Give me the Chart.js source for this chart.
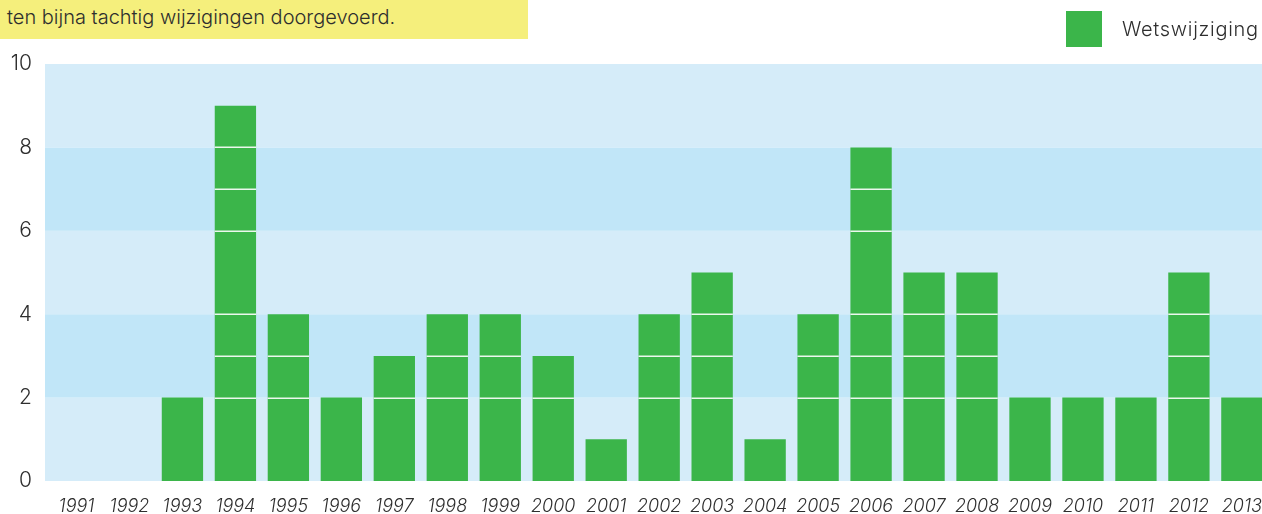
<!DOCTYPE html>
<html>
<head>
<meta charset="utf-8">
<script src="https://cdn.jsdelivr.net/npm/chart.js@4/dist/chart.umd.min.js"></script>
<style>
  html, body { margin: 0; padding: 0; background: #fff; overflow: hidden; width: 1262px; height: 514px; }
  #wrap { position: absolute; left: 0; top: 0; width: 1277px; height: 514px; }
  #note { position: absolute; left: 0; top: 0; width: 528px; height: 39px; background: #f5ef7c;
          font-family: Inter, "Liberation Sans", sans-serif; font-weight: 300; font-size: 20px; color: #2e2e2e;
          box-sizing: border-box; padding-left: 7px; line-height: 20px; padding-top: 7px; white-space: nowrap; }
  #legend { position: absolute; left: 1066px; top: 11px; height: 36px; display: flex; align-items: center;
            font-family: Inter, "Liberation Sans", sans-serif; font-weight: 300; font-size: 20px; letter-spacing: 0.7px; color: #2e2e2e; white-space: nowrap; }
  #legend .box { width: 36px; height: 36px; background: #3bb54a; margin-right: 20px; }
</style>
</head>
<body>
<div id="wrap"><canvas id="c" width="1277" height="514"></canvas></div>
<div id="note">ten bijna tachtig wijzigingen doorgevoerd.</div>
<div id="legend"><div class="box"></div><span id="legendLabel"></span></div>
<script>
const categories = ['1991','1992','1993','1994','1995','1996','1997','1998','1999','2000','2001','2002','2003','2004','2005','2006','2007','2008','2009','2010','2011','2012','2013'];
const wetswijziging = [0,0,2,9,4,2,3,4,4,3,1,4,5,1,4,8,5,5,2,2,2,5,2];
const seriesName = 'Wetswijziging';
const yTicks = [0,2,4,6,8,10];
const bandEdges = [0,2,4,6,8,10];
const segmentLevels = [2,3,4,6,7,8];

const GREEN = '#3bb54a';
const BAND_LIGHT = '#d5ecf9';
const BAND_DARK = '#c1e6f8';
const FONT = 'Inter, "Liberation Sans", sans-serif';

document.getElementById('legendLabel').textContent = seriesName;

const bandsPlugin = {
  id: 'bands',
  beforeDatasetsDraw(chart) {
    const {ctx, chartArea, scales: {y}} = chart;
    ctx.save();
    for (let i = 0; i < bandEdges.length - 1; i++) {
      const top = y.getPixelForValue(bandEdges[i + 1]);
      const bot = y.getPixelForValue(bandEdges[i]);
      ctx.fillStyle = (i % 2 === 0) ? BAND_LIGHT : BAND_DARK;
      ctx.fillRect(chartArea.left - 5, top, chartArea.right - chartArea.left + 5, bot - top);
    }
    ctx.restore();
  }
};

const segmentPlugin = {
  id: 'segments',
  afterDatasetsDraw(chart) {
    const {ctx, scales: {y}} = chart;
    const meta = chart.getDatasetMeta(0);
    ctx.save();
    ctx.strokeStyle = 'rgba(255,255,255,0.9)';
    ctx.lineWidth = 1.5;
    meta.data.forEach((bar, i) => {
      const v = wetswijziging[i];
      const half = bar.width / 2;
      segmentLevels.forEach(l => {
        if (l < v) {
          const py = Math.round(y.getPixelForValue(l)) + 0.25;
          ctx.beginPath();
          ctx.moveTo(bar.x - half, py);
          ctx.lineTo(bar.x + half, py);
          ctx.stroke();
        }
      });
    });
    ctx.restore();
  }
};

const chart = new Chart(document.getElementById('c'), {
  type: 'bar',
  data: {
    labels: categories,
    datasets: [{
      label: seriesName,
      data: wetswijziging,
      backgroundColor: GREEN,
      borderWidth: 0,
      barPercentage: 0.78,
      categoryPercentage: 1.0
    }]
  },
  options: {
    responsive: false,
    animation: false,
    layout: { padding: { left: 10, right: 0, top: 64, bottom: 0 } },
    plugins: { legend: { display: false }, tooltip: { enabled: false } },
    scales: {
      x: {
        grid: { display: false, drawTicks: false },
        border: { display: false },
        ticks: { color: '#2e2e2e', font: { family: FONT, size: 18, style: 'italic', weight: 300 }, padding: 15, maxRotation: 0, autoSkip: false },
        afterFit(s) { s.height = 33; }
      },
      y: {
        min: 0, max: 10,
        afterBuildTicks(s) { s.ticks = yTicks.map(v => ({ value: v })); },
        grid: { display: false, drawTicks: false },
        border: { display: false },
        ticks: { color: '#2e2e2e', font: { family: FONT, size: 21, weight: 300 }, padding: 18 },
        afterFit(s) { s.width = 40; }
      }
    }
  },
  plugins: [bandsPlugin, segmentPlugin]
});
</script>
</body>
</html>
